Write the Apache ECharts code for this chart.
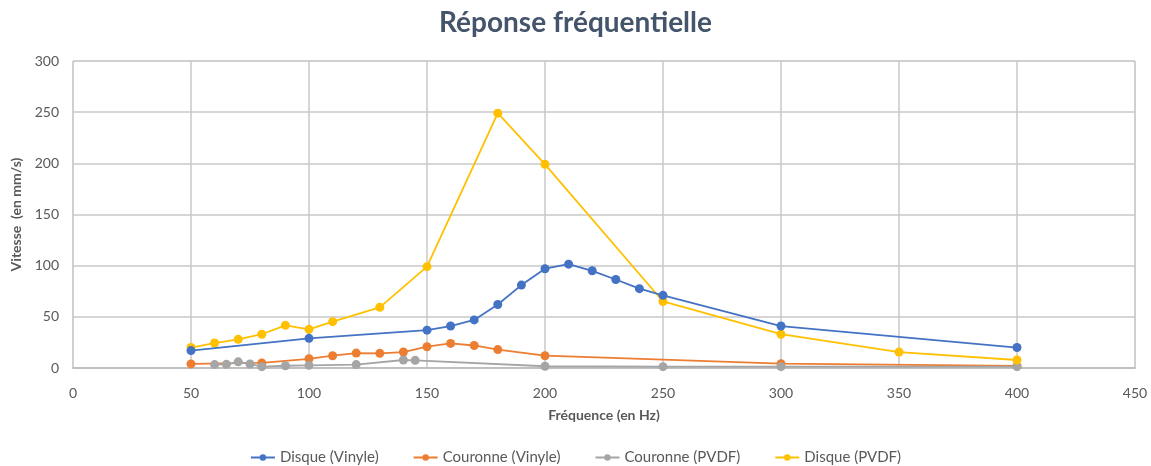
<!DOCTYPE html>
<html><head><meta charset="utf-8">
<script src="https://cdn.jsdelivr.net/npm/echarts@6/dist/echarts.min.js"></script>
<style>html,body{margin:0;padding:0;background:#fff}#c{width:1151px;height:466px}</style>
</head><body><div id="c"></div>
<script>
const seriesNames = ['Disque (Vinyle)', 'Couronne (Vinyle)', 'Couronne (PVDF)', 'Disque (PVDF)'];
const disqueVinyleX = [50, 100, 150, 160, 170, 180, 190, 200, 210, 220, 230, 240, 250, 300, 400];
const disqueVinyleY = [17, 29, 37, 41, 47, 62, 81, 97, 101.5, 95, 86.5, 77.5, 71, 41, 20];
const couronneVinyleX = [50, 80, 100, 110, 120, 130, 140, 150, 160, 170, 180, 200, 300, 400];
const couronneVinyleY = [4, 5, 9, 12, 14.6, 14.3, 15.6, 20.8, 24, 22, 18, 12, 4.2, 2];
const couronnePVDFX = [60, 65, 70, 75, 80, 90, 100, 120, 140, 145, 200, 250, 300, 400];
const couronnePVDFY = [3.3, 3.6, 6, 3.9, 1.3, 2.2, 2.6, 3.3, 7.8, 7.5, 1.7, 1.3, 1.3, 1.3];
const disquePVDFX = [50, 60, 70, 80, 90, 100, 110, 130, 150, 180, 200, 250, 300, 350, 400];
const disquePVDFY = [20, 24.4, 28, 33, 41.7, 37.8, 45.3, 59.3, 99, 249, 199, 65, 33, 15.6, 7.8];
const colors = ['#4472c4', '#ed7d31', '#a5a5a5', '#ffc000'];
const xs = [disqueVinyleX, couronneVinyleX, couronnePVDFX, disquePVDFX];
const ys = [disqueVinyleY, couronneVinyleY, couronnePVDFY, disquePVDFY];
const font = 'Lato, "Open Sans", sans-serif';
const chart = echarts.init(document.getElementById('c'));
chart.setOption({
  animation: false,
  textStyle: {fontFamily: font},
  title: {text: 'Réponse fréquentielle', left: 'center', top: 4,
    textStyle: {fontFamily: font, fontSize: 28, fontWeight: 'bold', color: '#44546a'}},
  grid: {left: 73, right: 16, top: 61, bottom: 98, show: true, borderColor: '#d0d0d0', borderWidth: 1},
  legend: {top: 445, itemWidth: 24, itemHeight: 8, itemGap: 34,
    textStyle: {fontFamily: font, fontSize: 15, color: '#595959'},
    data: seriesNames},
  xAxis: {type: 'value', min: 0, max: 450, interval: 50,
    name: 'Fréquence (en Hz)', nameLocation: 'middle', nameGap: 40,
    nameTextStyle: {fontFamily: font, fontSize: 14, fontWeight: 'bold', color: '#595959'},
    axisLine: {show: true, lineStyle: {color: '#bfbfbf', width: 2}}, axisTick: {show: false},
    axisLabel: {fontSize: 14, color: '#595959', margin: 18},
    splitLine: {show: true, lineStyle: {color: '#c8c8c8', width: 1.5}}},
  yAxis: {type: 'value', min: 0, max: 300, interval: 50,
    name: 'Vitesse  (en mm/s)', nameLocation: 'middle', nameGap: 47, nameRotate: 90,
    nameTextStyle: {fontFamily: font, fontSize: 14, fontWeight: 'bold', color: '#595959'},
    axisLine: {show: false}, axisTick: {show: false},
    axisLabel: {fontSize: 14, color: '#595959', margin: 14},
    splitLine: {show: true, lineStyle: {color: '#c8c8c8', width: 1.5}}},
  series: seriesNames.map((n, i) => ({
    name: n, type: 'line', symbol: 'circle', symbolSize: 9,
    data: xs[i].map((x, j) => [x, ys[i][j]]),
    itemStyle: {color: colors[i]}, lineStyle: {color: colors[i], width: 1.8},
    z: i === 0 ? 3 : 2
  }))
});
</script></body></html>
